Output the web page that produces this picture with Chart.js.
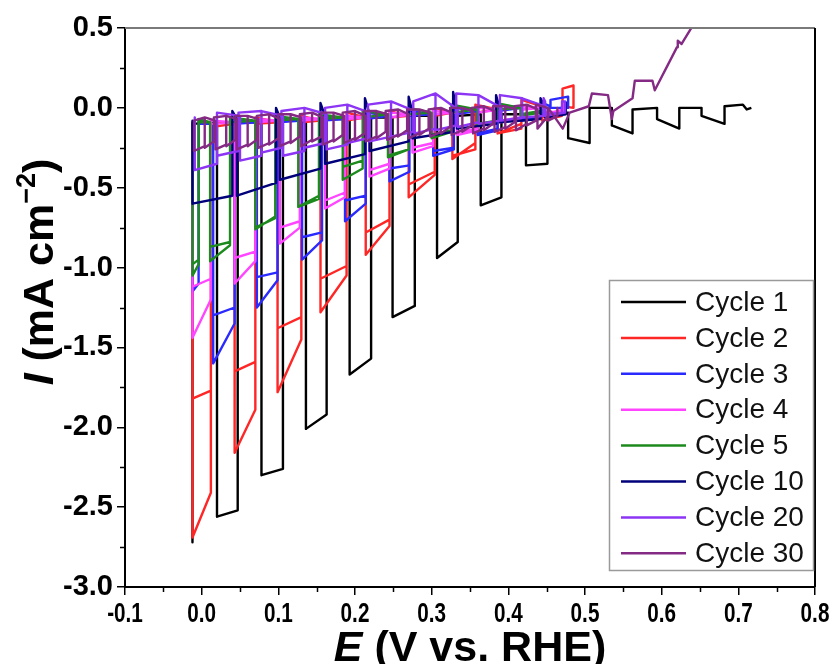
<!DOCTYPE html>
<html>
<head>
<meta charset="utf-8">
<script src="https://cdn.jsdelivr.net/npm/chart.js@4.4.1/dist/chart.umd.min.js"></script>
<style>
  html, body { margin: 0; padding: 0; background: #fff; }
  #wrap { width: 839px; height: 664px; }
</style>
</head>
<body>
<div id="wrap"><canvas id="myChart" width="839" height="664"></canvas></div>
<script>
// legend names and colours
var nomes = ['Cycle 1', 'Cycle 2', 'Cycle 3', 'Cycle 4', 'Cycle 5', 'Cycle 10', 'Cycle 20', 'Cycle 30'];
var cores = ['#000000', '#ff2626', '#2a2aff', '#ff45ff', '#1c8a1c', '#00007a', '#8d35f5', '#842a84'];

var xTicks = [-0.1, 0.0, 0.1, 0.2, 0.3, 0.4, 0.5, 0.6, 0.7, 0.8];
var yTicks = [0.5, 0.0, -0.5, -1.0, -1.5, -2.0, -2.5, -3.0];

// Cycle 1 : light on / off potentials (V), current at light on / off, dark current
var c1On = [-0.012, 0.020, 0.078, 0.136, 0.193, 0.249, 0.307, 0.364, 0.423, 0.478, 0.535, 0.594, 0.652];
var c1Off = [-0.012, 0.047, 0.106, 0.163, 0.221, 0.278, 0.334, 0.391, 0.451, 0.506, 0.562, 0.623, 0.682];
var c1A = [-2.72, -2.56, -2.30, -2.01, -1.67, -1.31, -0.94, -0.61, -0.36, -0.19, -0.11, -0.07, -0.05];
var c1B = [-2.72, -2.52, -2.26, -1.92, -1.57, -1.24, -0.84, -0.56, -0.35, -0.22, -0.16, -0.13, -0.10];
var c1Dark = [-0.10, -0.09, -0.09, -0.08, -0.07, -0.06, -0.05, -0.04, -0.04, -0.03, 0.00, 0.00, 0.00];
var c1Spike = [-0.10, -0.09, -0.08, -0.07, -0.06, -0.05, -0.05, -0.04, -0.03, 0.00, -0.01, 0.00, 0.01];
var c1TailE = [0.706, 0.711, 0.717];
var c1TailI = [0.02, -0.01, 0.00];

// Cycle 2
var c2On = [-0.012, 0.043, 0.099, 0.155, 0.214, 0.270, 0.327, 0.386, 0.444, 0.471];
var c2Off = [0.012, 0.070, 0.130, 0.189, 0.245, 0.304, 0.357, 0.417, 0.470, 0.485];
var c2A = [-2.69, -2.16, -1.78, -1.28, -0.92, -0.56, -0.32, -0.16, -0.06, 0.12];
var c2B = [-2.41, -1.89, -1.45, -1.05, -0.74, -0.42, -0.22, -0.10, -0.02, 0.14];
var c2RevA = [-1.82, -1.65, -1.38, -1.07, -0.78, -0.48, -0.30, -0.16, -0.08];
var c2RevB = [-1.77, -1.59, -1.31, -0.99, -0.70, -0.40, -0.26, -0.13, -0.05];
var c2Dark = [-0.12, -0.10, -0.09, -0.08, -0.06, -0.05, -0.03, -0.01, 0.01, 0.00];
var c2Spike = [-0.08, -0.06, -0.05, -0.03, -0.02, 0.00, 0.02, 0.05, 0.04, 0.00];

// Cycle 3
var c3On = [-0.012, 0.015, 0.072, 0.131, 0.187, 0.245, 0.302, 0.360, 0.418, 0.455];
var c3Off = [-0.004, 0.043, 0.099, 0.157, 0.214, 0.271, 0.329, 0.386, 0.445, 0.478];
var c3A = [-1.15, -1.60, -1.25, -0.95, -0.71, -0.46, -0.30, -0.17, -0.08, 0.05];
var c3B = [-1.10, -1.35, -1.08, -0.83, -0.60, -0.40, -0.26, -0.14, -0.05, 0.07];
var c3RevA = [-1.15, -1.30, -1.06, -0.81, -0.58, -0.38, -0.27, -0.16, -0.07];
var c3RevB = [-1.10, -1.25, -1.03, -0.78, -0.55, -0.36, -0.25, -0.13, -0.05];
var c3Dark = [-0.10, -0.10, -0.09, -0.08, -0.07, -0.05, -0.04, -0.02, 0.00, 0.01];
var c3Spike = [-0.08, -0.07, -0.06, -0.05, -0.03, -0.02, 0.00, 0.02, 0.03, 0.00];

// Cycle 4
var c4On = [-0.012, 0.043, 0.102, 0.161, 0.219, 0.275, 0.333, 0.389, 0.448];
var c4Off = [0.012, 0.070, 0.128, 0.187, 0.245, 0.302, 0.360, 0.416, 0.472];
var c4A = [-1.44, -1.10, -0.85, -0.63, -0.43, -0.28, -0.17, -0.09, -0.04];
var c4B = [-1.20, -0.96, -0.75, -0.56, -0.38, -0.24, -0.14, -0.07, -0.01];
var c4RevA = [-1.12, -0.94, -0.75, -0.58, -0.39, -0.25, -0.15, -0.08, -0.03];
var c4RevB = [-1.07, -0.90, -0.71, -0.53, -0.35, -0.22, -0.13, -0.06, -0.02];
var c4Dark = [-0.10, -0.09, -0.08, -0.07, -0.06, -0.04, -0.03, -0.01, 0.00];
var c4Spike = [-0.08, -0.07, -0.06, -0.05, -0.03, -0.02, 0.00, 0.01, 0.02];

// Cycle 5
var c5On = [-0.012, 0.011, 0.070, 0.126, 0.184, 0.243, 0.300, 0.359, 0.416];
var c5Off = [-0.004, 0.037, 0.096, 0.153, 0.210, 0.270, 0.326, 0.385, 0.443];
var c5A = [-1.05, -0.96, -0.76, -0.62, -0.45, -0.31, -0.19, -0.11, -0.05];
var c5B = [-0.98, -0.86, -0.68, -0.55, -0.38, -0.26, -0.15, -0.08, -0.03];
var c5RevA = [-0.98, -0.87, -0.75, -0.62, -0.37, -0.30, -0.17, -0.10, -0.04];
var c5RevB = [-0.95, -0.84, -0.69, -0.57, -0.33, -0.26, -0.14, -0.08, -0.02];
var c5Dark = [-0.09, -0.09, -0.08, -0.07, -0.06, -0.04, -0.03, -0.01, 0.00];
var c5Spike = [-0.07, -0.06, -0.05, -0.04, -0.02, 0.00, 0.02, 0.03, 0.04];

// Cycle 10
var c10On = [-0.012, 0.046, 0.102, 0.161, 0.219, 0.275, 0.333, 0.389, 0.448];
var c10Off = [0.040, 0.097, 0.155, 0.213, 0.270, 0.328, 0.384, 0.442, 0.475];
var c10A = [-0.60, -0.55, -0.45, -0.35, -0.27, -0.19, -0.13, -0.09, -0.06];
var c10B = [-0.55, -0.47, -0.38, -0.29, -0.21, -0.15, -0.10, -0.07, -0.04];
var c10Dark = [-0.08, -0.07, -0.06, -0.05, -0.04, -0.03, -0.02, -0.01, 0.00];
var c10Spike = [-0.02, 0.00, 0.03, 0.06, 0.07, 0.10, 0.08, 0.06, 0.04];

// Cycle 20
var c20On = [-0.009, 0.050, 0.106, 0.163, 0.219, 0.278, 0.334, 0.391, 0.448];
var c20Off = [0.020, 0.078, 0.134, 0.190, 0.247, 0.305, 0.361, 0.418, 0.474];
var c20A = [-0.39, -0.33, -0.30, -0.26, -0.21, -0.16, -0.12, -0.08, -0.05];
var c20B = [-0.35, -0.30, -0.27, -0.23, -0.18, -0.13, -0.09, -0.06, -0.03];
var c20Dark = [-0.06, -0.05, -0.05, -0.04, -0.03, -0.02, -0.01, 0.00, 0.01];
var c20Spike = [-0.03, -0.02, 0.00, 0.02, 0.04, 0.09, 0.08, 0.06, 0.04];
var c20RevOn = [0.020, 0.078, 0.134, 0.190, 0.247, 0.305, 0.361, 0.418, 0.448];
var c20RevOff = [0.048, 0.104, 0.161, 0.217, 0.276, 0.332, 0.389, 0.446, 0.470];
var c20RevA = [-0.30, -0.28, -0.25, -0.22, -0.18, -0.14, -0.10, -0.06, -0.04];
var c20RevB = [-0.27, -0.25, -0.22, -0.19, -0.15, -0.11, -0.08, -0.05, -0.03];

// Cycle 30
var c30On = [-0.010, 0.018, 0.046, 0.074, 0.102, 0.130, 0.158, 0.186, 0.214, 0.242, 0.270, 0.298, 0.326, 0.354, 0.382, 0.410, 0.438];
var c30Off = [0.004, 0.032, 0.060, 0.088, 0.116, 0.144, 0.172, 0.200, 0.228, 0.256, 0.284, 0.312, 0.340, 0.368, 0.396, 0.424, 0.452];
var c30A = [-0.27, -0.26, -0.26, -0.25, -0.24, -0.24, -0.23, -0.22, -0.21, -0.20, -0.19, -0.18, -0.17, -0.16, -0.15, -0.14, -0.13];
var c30B = [-0.24, -0.23, -0.23, -0.22, -0.21, -0.20, -0.20, -0.19, -0.18, -0.17, -0.16, -0.15, -0.14, -0.13, -0.12, -0.10, -0.05];
var c30Dark = [-0.08, -0.08, -0.07, -0.07, -0.07, -0.06, -0.06, -0.05, -0.05, -0.04, -0.04, -0.03, -0.03, -0.02, -0.02, -0.01, -0.01];
var c30Spike = [-0.06, -0.05, -0.05, -0.04, -0.04, -0.03, -0.03, -0.02, -0.02, -0.01, -0.01, 0.00, 0.00, 0.01, 0.01, 0.02, 0.00];
var c30RevOn = [0.004, 0.032, 0.060, 0.088, 0.116, 0.144, 0.172, 0.200, 0.228, 0.256, 0.284, 0.312, 0.340, 0.368, 0.396, 0.424, 0.452];
var c30RevOff = [0.016, 0.044, 0.072, 0.100, 0.128, 0.156, 0.184, 0.212, 0.240, 0.268, 0.296, 0.324, 0.352, 0.380, 0.408, 0.436, 0.464];
var c30RevA = [-0.25, -0.24, -0.24, -0.23, -0.22, -0.21, -0.21, -0.20, -0.19, -0.18, -0.17, -0.16, -0.15, -0.14, -0.13, -0.11, -0.08];
var c30RevB = [-0.21, -0.20, -0.20, -0.19, -0.18, -0.18, -0.17, -0.16, -0.15, -0.14, -0.13, -0.12, -0.11, -0.10, -0.09, -0.08, -0.05];
var c30TailE = [0.471, 0.480, 0.505, 0.509, 0.530, 0.535, 0.537, 0.562, 0.565, 0.588, 0.591, 0.620, 0.621, 0.626, 0.645];
var c30TailI = [-0.13, -0.03, 0.01, 0.09, 0.08, -0.07, -0.02, 0.06, 0.17, 0.17, 0.11, 0.38, 0.42, 0.40, 0.55];

// forward sweep: dark -> light on -> light off
function ida(on, off, a, b, dark, spike) {
    var pts = [];
    for (let i = 0; i < on.length; i++) {
        pts.push({ x: on[i], y: dark[i] });
        pts.push({ x: on[i], y: a[i] });
        pts.push({ x: off[i], y: b[i] });
        pts.push({ x: off[i], y: spike[i] });
    }
    return pts;
}

// return sweep, light windows walked backwards
function volta(on, off, ra, rb, dark) {
    var pts = [];
    for (let i = ra.length - 1; i >= 0; i--) {
        pts.push({ x: off[i], y: dark[i] });
        pts.push({ x: off[i], y: rb[i] });
        pts.push({ x: on[i], y: ra[i] });
        pts.push({ x: on[i], y: dark[i] });
    }
    return pts;
}

function cauda(e, i) {
    var pts = [];
    for (let c = 0; c < e.length; c++) {
        pts.push({ x: e[c], y: i[c] });
    }
    return pts;
}

var series = [
    ida(c1On, c1Off, c1A, c1B, c1Dark, c1Spike).concat(cauda(c1TailE, c1TailI)),
    ida(c2On, c2Off, c2A, c2B, c2Dark, c2Spike).concat(volta(c2On, c2Off, c2RevA, c2RevB, c2Dark)),
    ida(c3On, c3Off, c3A, c3B, c3Dark, c3Spike).concat(volta(c3On, c3Off, c3RevA, c3RevB, c3Dark)),
    ida(c4On, c4Off, c4A, c4B, c4Dark, c4Spike).concat(volta(c4On, c4Off, c4RevA, c4RevB, c4Dark)),
    ida(c5On, c5Off, c5A, c5B, c5Dark, c5Spike).concat(volta(c5On, c5Off, c5RevA, c5RevB, c5Dark)),
    ida(c10On, c10Off, c10A, c10B, c10Dark, c10Spike),
    ida(c20On, c20Off, c20A, c20B, c20Dark, c20Spike).concat(volta(c20RevOn, c20RevOff, c20RevA, c20RevB, c20Spike)),
    volta(c30RevOn, c30RevOff, c30RevA, c30RevB, c30Spike).concat(ida(c30On, c30Off, c30A, c30B, c30Dark, c30Spike), cauda(c30TailE, c30TailI))
];

var datasets = [];
for (let c = 0; c < nomes.length; c++) {
    datasets.push({
        label: nomes[c],
        data: series[c],
        borderColor: cores[c],
        backgroundColor: cores[c],
        borderWidth: 2.4,
        pointRadius: 0,
        tension: 0,
        borderJoinStyle: 'round',
        order: nomes.length - c
    });
}

// minor ticks, frame, x labels, axis titles and the boxed legend
var extras = {
    id: 'extras',
    afterDraw: function (chart) {
        var ctx = chart.ctx;
        var a = chart.chartArea;
        var sx = chart.scales.x;
        var sy = chart.scales.y;
        ctx.save();
        ctx.strokeStyle = '#000';
        ctx.lineWidth = 1.5;
        for (let v = -0.05; v < 0.8; v += 0.1) {
            var px = Math.round(sx.getPixelForValue(v)) + 0.5;
            ctx.beginPath(); ctx.moveTo(px, a.bottom); ctx.lineTo(px, a.bottom + 5); ctx.stroke();
        }
        for (let v = 0.25; v > -3; v -= 0.5) {
            var py = Math.round(sy.getPixelForValue(v)) + 0.5;
            ctx.beginPath(); ctx.moveTo(a.left, py); ctx.lineTo(a.left - 5, py); ctx.stroke();
        }
        // frame top and right
        ctx.lineWidth = 2;
        ctx.strokeStyle = '#7a7a7a';
        ctx.beginPath(); ctx.moveTo(a.left, a.top); ctx.lineTo(a.right, a.top); ctx.stroke();
        ctx.strokeStyle = '#000';
        ctx.beginPath(); ctx.moveTo(a.right, a.top); ctx.lineTo(a.right, a.bottom); ctx.stroke();

        // x tick labels, narrow
        ctx.fillStyle = '#000';
        ctx.font = 'bold 28px Arial';
        ctx.textAlign = 'center';
        ctx.textBaseline = 'alphabetic';
        for (let c = 0; c < xTicks.length; c++) {
            ctx.save();
            ctx.translate(sx.getPixelForValue(xTicks[c]), 622);
            ctx.scale(0.74, 1);
            ctx.fillText(xTicks[c].toFixed(1), 0, 0);
            ctx.restore();
        }
        ctx.textAlign = 'left';

        // x title
        var f1 = 'italic bold 43px Arial';
        var f2 = 'bold 43px Arial';
        var f3 = 'bold 27px Arial';
        ctx.font = f1; var w1 = ctx.measureText('E').width;
        ctx.font = f2; var w2 = ctx.measureText(' (V vs. RHE)').width;
        var x0 = 470 - (w1 + w2) / 2;
        ctx.font = f1; ctx.fillText('E', x0, 661);
        ctx.font = f2; ctx.fillText(' (V vs. RHE)', x0 + w1, 661);

        // y title, rotated
        ctx.save();
        ctx.translate(53, 272);
        ctx.rotate(-Math.PI / 2);
        ctx.font = f1; var t1 = ctx.measureText('I').width;
        ctx.font = f2; var t2 = ctx.measureText(' (mA cm').width;
        ctx.font = f3; var t3 = ctx.measureText('\u22122').width;
        ctx.font = f2; var t4 = ctx.measureText(')').width;
        var y0 = -(t1 + t2 + t3 + t4) / 2;
        ctx.font = f1; ctx.fillText('I', y0, 0);
        ctx.font = f2; ctx.fillText(' (mA cm', y0 + t1, 0);
        ctx.font = f3; ctx.fillText('\u22122', y0 + t1 + t2, -18);
        ctx.font = f2; ctx.fillText(')', y0 + t1 + t2 + t3, 0);
        ctx.restore();

        // legend box
        ctx.fillStyle = '#fff';
        ctx.fillRect(609, 280, 204, 290);
        ctx.strokeStyle = '#9a9a9a';
        ctx.lineWidth = 1.5;
        ctx.strokeRect(609.5, 280.5, 204, 290);
        ctx.font = '28px Arial';
        ctx.textBaseline = 'middle';
        for (let c = 0; c < nomes.length; c++) {
            var ly = 302 + c * 35.9;
            ctx.strokeStyle = cores[c];
            ctx.lineWidth = 2.5;
            ctx.beginPath(); ctx.moveTo(621, ly); ctx.lineTo(686, ly); ctx.stroke();
            ctx.fillStyle = '#111';
            ctx.fillText(nomes[c], 695, ly + 1);
        }
        ctx.restore();
    }
};

var config = {
    type: 'line',
    data: { datasets: datasets },
    options: {
        responsive: false,
        animation: false,
        layout: { padding: { top: 28, right: 24, left: 0, bottom: 0 } },
        plugins: { legend: { display: false }, tooltip: { enabled: false } },
        scales: {
            x: {
                type: 'linear',
                min: -0.1,
                max: 0.8,
                afterFit: function (scale) { scale.height = 77; },
                afterBuildTicks: function (scale) {
                    scale.ticks = xTicks.map(function (v) { return { value: v }; });
                },
                grid: { drawOnChartArea: false, tickLength: 8, color: '#000', lineWidth: 1.5 },
                border: { color: '#000', width: 2 },
                ticks: { display: false }
            },
            y: {
                type: 'linear',
                min: -3,
                max: 0.5,
                afterFit: function (scale) { scale.width = 125; },
                afterBuildTicks: function (scale) {
                    scale.ticks = yTicks.map(function (v) { return { value: v }; });
                },
                grid: { drawOnChartArea: false, tickLength: 8, color: '#000', lineWidth: 1.5 },
                border: { color: '#000', width: 2 },
                ticks: {
                    color: '#000',
                    padding: 4,
                    autoSkip: false,
                    font: { family: 'Arial', weight: 'bold', size: 29 },
                    callback: function (v) { return v.toFixed(1); }
                }
            }
        }
    },
    plugins: [extras]
};

const myChart = new Chart(document.getElementById('myChart'), config);
</script>
</body>
</html>
